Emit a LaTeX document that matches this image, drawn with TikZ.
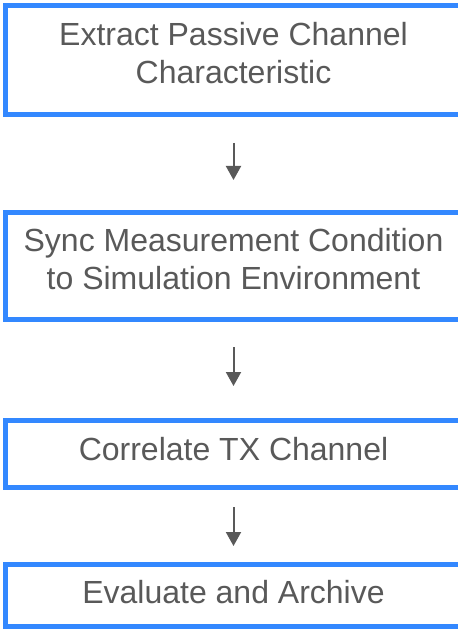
\documentclass[tikz,border=0pt]{standalone}
\usepackage{fontspec}
\setmainfont{Liberation Sans}
\usetikzlibrary{arrows.meta}
\usetikzlibrary{positioning}
\definecolor{stepblue}{RGB}{51,136,255}
\definecolor{textgray}{RGB}{89,89,89}
\tikzset{
    stepbox/.style={
        draw=stepblue,
        rectangle,
        fill=white,
        line width=2.5pt,
        minimum width=228.5pt,
        outer sep=0pt,
        inner sep=0pt,
        align=center,
        text=textgray,
        font=\fontsize{16}{19}\selectfont
    },
    flow/.style={
        draw=textgray,
        line width=1pt,
        -{Triangle[length=7pt, width=7.5pt]}
    }
}

\begin{document}
\begin{tikzpicture}
  \useasboundingbox (0,0) rectangle (229pt,-315pt);

  % Steps of the flow, top to bottom
  \node[stepbox, minimum height=54.25pt, text depth=7pt] (extract) at (116.75pt,-30.125pt)
    {Extract Passive Channel\\Characteristic};
  \node[stepbox, minimum height=53.5pt, text depth=7.5pt, below=49pt of extract] (sync)
    {Sync Measurement Condition\\to Simulation Environment};
  \node[stepbox, minimum height=33.5pt, text depth=5.5pt, below=50.5pt of sync] (correlate)
    {Correlate TX Channel};
  \node[stepbox, minimum height=31pt, text depth=4pt, below=38.5pt of correlate] (evaluate)
    {Evaluate and Archive};

  % Arrows between the steps
  \draw[flow, shorten <=14.25pt, shorten >=16.25pt] (extract) -- (sync);
  \draw[flow, shorten <=13.75pt, shorten >=17.25pt] (sync) -- (correlate);
  \draw[flow, shorten <=9.75pt, shorten >=9.25pt] (correlate) -- (evaluate);
\end{tikzpicture}
\end{document}
